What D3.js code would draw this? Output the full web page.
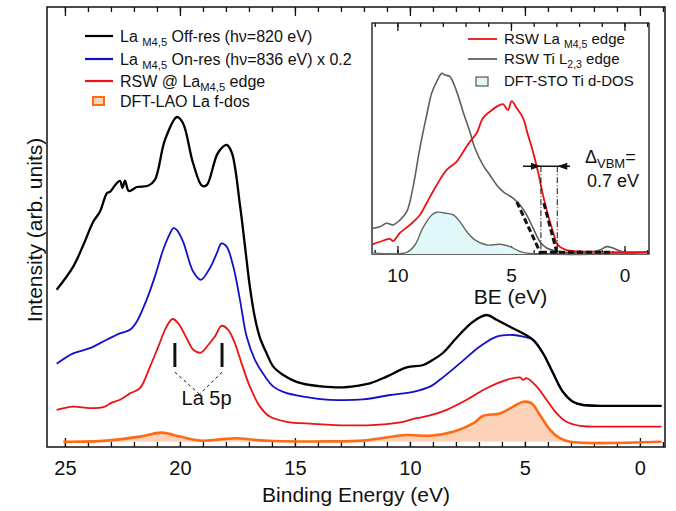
<!DOCTYPE html>
<html lang="en">
<head>
<meta charset="UTF-8">
<title>La 5p resonant photoemission</title>
<script src="https://d3js.org/d3.v7.min.js"></script>
<style>
  body { margin: 0; background: #fff; }
  svg text { font-family: "Liberation Sans", Arial, Helvetica, sans-serif; fill: #111; white-space: pre; }
  .tick-main text { font-size: 20px; }
  .tick-inset text { font-size: 19px; }
  .axis-label { font-size: 21px; }
  .legend { font-size: 16px; }
  .legend-inset { font-size: 15px; }
</style>
</head>
<body>
<div id="chart"></div>
<script>
// ---- main panel data: [binding energy (eV), intensity (arb. units)] ----
const offRes = [[25.36,39.3],[24.64,45.1],[24.2,50.5],[23.77,56.3],[23.48,58.8],[23.17,63.5],[23.04,63.8],
  [22.74,66.0],[22.6,66.5],[22.5,64.8],[22.39,66.6],[22.22,64.0],[21.87,65.0],[21.39,65.3],[21.09,66.8],
  [20.65,76.8],[20.13,82.5],[19.87,81.0],[19.43,71.0],[19.04,65.3],[18.83,65.5],[18.35,73.5],[17.96,75.5],
  [17.74,73.5],[17.39,60.5],[17.17,50.1],[16.96,40.1],[16.74,32.3],[16.52,27.3],[16.23,23.4],[15.94,20.1],
  [15.51,18.0],[14.93,16.3],[14.35,15.5],[13.77,15.1],[13.04,14.9],[12.32,15.3],[11.74,15.9],[11.01,17.6],
  [10.14,19.9],[9.42,20.5],[9.0,21.8],[8.57,23.5],[7.97,27.3],[7.26,31.3],[6.67,33.0],[6.23,31.8],[5.8,30.5],
  [5.22,28.8],[4.65,26.8],[4.22,23.5],[3.78,18.5],[3.35,13.8],[2.91,11.3],[2.48,10.5],[1.17,10.3],[-0.94,10.3]];

const onRes = [[25.36,20.8],[24.64,23.4],[23.91,24.7],[23.19,26.8],[22.61,28.4],[22.17,29.3],[21.88,31.3],
  [21.45,36.8],[21.09,42.6],[20.73,49.3],[20.43,53.4],[20.29,54.7],[20.14,54.3],[19.86,51.3],[19.42,43.8],
  [19.09,41.8],[18.7,44.7],[18.4,48.4],[18.19,50.9],[17.97,50.1],[17.68,45.1],[17.39,36.8],[17.1,27.6],
  [16.74,21.8],[16.3,17.6],[15.94,15.1],[15.51,13.8],[14.64,12.6],[13.48,11.8],[12.03,11.9],[10.87,13.0],
  [9.86,13.8],[9.13,15.1],[8.7,16.8],[7.83,20.9],[6.96,25.1],[6.23,27.6],[5.51,28.0],[5.07,27.6],[4.64,26.8],
  [4.22,23.5],[3.78,18.5],[3.35,13.8],[2.91,11.3],[2.48,10.5],[1.17,10.3],[-0.94,10.3]];

const rswLa = [[25.36,9.3],[24.64,10.1],[23.91,9.7],[23.26,10.1],[22.97,11.1],[22.61,11.8],[22.17,13.4],
  [21.74,14.7],[21.3,20.1],[20.94,25.1],[20.58,30.1],[20.32,32.0],[20.07,30.9],[19.71,27.2],[19.42,24.3],
  [19.09,23.6],[18.77,25.5],[18.48,27.6],[18.19,30.3],[17.9,29.3],[17.61,25.9],[17.32,20.9],[16.96,15.1],
  [16.52,10.1],[16.09,7.6],[15.36,6.3],[14.2,5.8],[12.75,5.4],[11.3,5.6],[10.29,6.3],[9.71,7.2],[9.13,7.9],
  [8.4,9.3],[7.53,11.8],[6.67,14.7],[5.8,16.8],[5.22,17.4],[5.07,16.8],[4.93,17.2],[4.49,15.1],[4.06,11.8],
  [3.62,8.4],[3.19,6.3],[2.61,5.3],[1.17,5.1],[-0.94,5.1]];

const dftLao = [[25.07,1.3],[23.19,1.6],[21.74,2.6],[20.8,3.6],[20.0,2.6],[19.13,1.6],[18.26,1.9],[17.53,2.2],
  [16.81,1.8],[15.94,1.5],[13.48,1.4],[12.03,1.6],[10.14,3.0],[9.13,2.8],[8.12,3.8],[7.25,5.9],[6.81,7.8],
  [6.09,8.4],[5.51,10.1],[5.07,11.3],[4.71,10.9],[4.35,8.0],[3.91,4.3],[3.48,2.2],[3.04,1.3],[-0.94,1.3]];

const mainMajor = [25, 20, 15, 10, 5, 0];
const mainMinor = [-1,0,1,2,3,4,5,6,7,8,9,10,11,12,13,14,15,16,17,18,19,20,21,22,23,24,25];

// ---- inset data: [BE (eV), intensity] ----
const insetLa = [[11.1,4.2],[10.77,5.3],[10.33,6.5],[10.19,5.6],[9.89,9.1],[9.45,12.6],[9.01,16.9],[8.71,22.1],
  [8.27,29.9],[7.83,36.4],[7.39,40.0],[7.1,44.3],[6.81,48.6],[6.51,52.4],[6.23,58.9],[5.93,61.6],[5.63,63.8],
  [5.35,64.9],[5.13,62.3],[4.97,66.2],[4.75,63.2],[4.47,58.9],[4.25,51.5],[4.03,44.3],[3.81,35.6],[3.59,25.5],
  [3.37,16.9],[3.15,9.7],[2.93,3.9],[2.55,1.7],[1.39,1.0],[-1.0,0.7]];

const insetTi = [[11.1,11.1],[10.77,11.8],[10.48,13.3],[10.2,12.6],[9.89,14.7],[9.59,18.3],[9.32,28.6],
  [9.01,45.9],[8.71,60.2],[8.49,69.7],[8.27,74.6],[8.05,78.2],[7.91,77.5],[7.69,76.8],[7.39,70.3],[7.11,61.6],
  [6.81,52.9],[6.59,45.9],[6.23,38.5],[5.93,34.2],[5.63,29.9],[5.35,27.0],[4.91,24.2],[4.6,21.2],[4.31,16.9],
  [4.03,11.3],[3.72,5.3],[3.43,2.6],[2.84,1.0],[1.39,1.0],[1.08,1.7],[0.78,3.2],[0.51,2.6],[0.07,1.0],[-1.0,0.9]];

const stoDos = [[11.1,0.5],[9.59,0.7],[9.23,3.9],[8.88,11.3],[8.49,16.9],[8.27,18.1],[7.83,17.6],[7.54,16.9],
  [7.25,14.0],[6.95,9.7],[6.59,6.1],[6.07,3.9],[5.48,4.2],[5.04,3.2],[4.47,0.7],[-1.0,0.5]];

const tiEdgeFit = [[4.74,22.5],[3.68,0]];
const laEdgeFit = [[3.55,22.0],[2.96,0]];
const vbmBase = [[3.68,0.8],[0.5,0.8]];
const vbmMarks = [3.68, 2.96];
const insetMajor = [10, 5, 0];
const insetMinor = [-1,0,1,2,3,4,5,6,7,8,9,10,11];

// ---- layout ----
const W = 676, H = 511;
const main = { left: 47, right: 665, top: 7, bottom: 447 };
const inset = { left: 372, right: 649, top: 23, bottom: 254 };

const svg = d3.select("#chart").append("svg")
  .attr("width", W).attr("height", H);

const x = d3.scaleLinear().domain([25.78, -1.09]).range([main.left, main.right]);
const y = d3.scaleLinear().domain([0, 110]).range([main.bottom, main.top]);

const ix = d3.scaleLinear().domain([11.12, -1.08]).range([inset.left, inset.right]);
const iy = d3.scaleLinear().domain([0, 100]).range([inset.bottom, inset.top]);

// frame
svg.append("rect")
  .attr("x", main.left).attr("y", main.top)
  .attr("width", main.right - main.left).attr("height", main.bottom - main.top)
  .attr("fill", "none").attr("stroke", "#111").attr("stroke-width", 1.5);

// ticks, pointing inward on top and bottom
function ticks(g, axis) {
  g.call(axis).call(s => s.select(".domain").remove())
    .attr("font-size", null).attr("font-family", null)
    .selectAll("line").attr("stroke", "#111").attr("stroke-width", 1.3);
}
svg.append("g").attr("transform", `translate(0,${main.bottom})`)
  .call(g => ticks(g, d3.axisBottom(x).tickValues(mainMinor).tickSize(-5).tickFormat("")));
svg.append("g").attr("class", "tick-main").attr("transform", `translate(0,${main.bottom})`)
  .call(g => ticks(g, d3.axisBottom(x).tickValues(mainMajor).tickSize(-9).tickPadding(14)));
svg.append("g").attr("transform", `translate(0,${main.top})`)
  .call(g => ticks(g, d3.axisTop(x).tickValues(mainMinor).tickSize(-5).tickFormat("")));
svg.append("g").attr("transform", `translate(0,${main.top})`)
  .call(g => ticks(g, d3.axisTop(x).tickValues(mainMajor).tickSize(-9).tickFormat("")));

svg.append("text").attr("class", "axis-label")
  .attr("x", (main.left + main.right) / 2).attr("y", 502)
  .attr("text-anchor", "middle").text("Binding Energy (eV)");

svg.append("text").attr("class", "axis-label")
  .attr("transform", "translate(42,230) rotate(-90)")
  .attr("text-anchor", "middle").text("Intensity (arb. units)");

// main curves
const line = d3.line().x(d => x(d[0])).y(d => y(d[1]));
const area = d3.area().x(d => x(d[0])).y0(y(1.3)).y1(d => y(d[1])).curve(d3.curveCatmullRom);

svg.append("path").datum(dftLao).attr("d", area).attr("fill", "#fcd3b9");
svg.append("path").datum(dftLao).attr("d", line.curve(d3.curveCatmullRom))
  .attr("fill", "none").attr("stroke", "#ff6a13").attr("stroke-width", 2.6);

const series = [
  { data: rswLa, color: "#ee1111", w: 1.8 },
  { data: onRes, color: "#1111cc", w: 1.8 },
  { data: offRes, color: "#000000", w: 2.3 }
];
series.forEach(s => {
  svg.append("path").datum(s.data)
    .attr("d", d3.line().x(d => x(d[0])).y(d => y(d[1])).curve(d3.curveCatmullRom))
    .attr("fill", "none").attr("stroke", s.color)
    .attr("stroke-width", s.w).attr("stroke-linejoin", "round");
});

// La 5p markers
const la5p = [20.22, 18.17];
la5p.forEach(e => {
  svg.append("line")
    .attr("x1", x(e)).attr("x2", x(e)).attr("y1", y(26)).attr("y2", y(20))
    .attr("stroke", "#111").attr("stroke-width", 3);
  svg.append("line")
    .attr("x1", x(e)).attr("y1", y(18.7)).attr("x2", x(19.15)).attr("y2", y(13.2))
    .attr("stroke", "#111").attr("stroke-width", 1).attr("stroke-dasharray", "3,3");
});
svg.append("text").attr("x", x(19.93)).attr("y", 405)
  .style("font-size", "20px").text("La 5p");

// text with subscripts; parts are plain strings or {sub: "..."}
function rich(g, px, py, parts, cls) {
  const t = g.append("text").attr("x", px).attr("y", py).attr("class", cls);
  let shifted = false;
  parts.forEach(p => {
    const sp = t.append("tspan");
    if (typeof p !== "string") {
      sp.attr("dy", 4).style("font-size", "0.7em").text(p.sub);
      shifted = true;
    } else {
      if (shifted) { sp.attr("dy", -4); shifted = false; }
      sp.text(p);
    }
  });
  return t;
}

// main legend
const legend = svg.append("g");
const legRows = [
  { y: 36, color: "#000", parts: ["La ", { sub: "M4,5" }, " Off-res (h\u03bd=820 eV)"] },
  { y: 59, color: "#1111cc", parts: ["La ", { sub: "M4,5" }, " On-res (h\u03bd=836 eV) x 0.2"] },
  { y: 81, color: "#ee1111", parts: ["RSW @ La", { sub: "M4,5" }, " edge"] }
];
legRows.forEach(r => {
  legend.append("line").attr("x1", 85).attr("x2", 113).attr("y1", r.y).attr("y2", r.y)
    .attr("stroke", r.color).attr("stroke-width", 2.2);
  rich(legend, 120, r.y + 6, r.parts, "legend");
});
legend.append("rect").attr("x", 93).attr("y", 97).attr("width", 11).attr("height", 8)
  .attr("fill", "#fcd3b9").attr("stroke", "#ff6a13").attr("stroke-width", 2);
rich(legend, 120, 107, ["DFT-LAO La f-dos"], "legend");

// ---- inset ----
const ins = svg.append("g");
ins.append("rect")
  .attr("x", inset.left).attr("y", inset.top)
  .attr("width", inset.right - inset.left).attr("height", inset.bottom - inset.top)
  .attr("fill", "#fff").attr("stroke", "#111").attr("stroke-width", 1.3);

ins.append("g").attr("transform", `translate(0,${inset.bottom})`)
  .call(g => ticks(g, d3.axisBottom(ix).tickValues(insetMinor).tickSize(-4).tickFormat("")));
ins.append("g").attr("class", "tick-inset").attr("transform", `translate(0,${inset.bottom})`)
  .call(g => ticks(g, d3.axisBottom(ix).tickValues(insetMajor).tickSize(-8).tickPadding(15)));
ins.append("g").attr("transform", `translate(0,${inset.top})`)
  .call(g => ticks(g, d3.axisTop(ix).tickValues(insetMinor).tickSize(-4).tickFormat("")));
ins.append("g").attr("transform", `translate(0,${inset.top})`)
  .call(g => ticks(g, d3.axisTop(ix).tickValues(insetMajor).tickSize(-8).tickFormat("")));

ins.append("text").attr("class", "axis-label")
  .attr("x", (inset.left + inset.right) / 2).attr("y", 304)
  .attr("text-anchor", "middle").text("BE (eV)");

const iline = d3.line().x(d => ix(d[0])).y(d => iy(d[1]));
const iarea = d3.area().x(d => ix(d[0])).y0(iy(0)).y1(d => iy(d[1])).curve(d3.curveCatmullRom);

ins.append("path").datum(stoDos).attr("d", iarea).attr("fill", "#e1f8fa");
ins.append("path").datum(stoDos).attr("d", iline.curve(d3.curveCatmullRom))
  .attr("fill", "none").attr("stroke", "#666").attr("stroke-width", 1.4);
ins.append("path").datum(insetTi).attr("d", iline.curve(d3.curveCatmullRom))
  .attr("fill", "none").attr("stroke", "#5f5f5f").attr("stroke-width", 1.6);
ins.append("path").datum(insetLa).attr("d", iline.curve(d3.curveCatmullRom))
  .attr("fill", "none").attr("stroke", "#ee1111").attr("stroke-width", 1.8);

// VBM extrapolation
[tiEdgeFit, laEdgeFit, vbmBase].forEach(d => {
  ins.append("path").datum(d).attr("d", iline.curve(d3.curveLinear))
    .attr("fill", "none").attr("stroke", "#111").attr("stroke-width", 3)
    .attr("stroke-dasharray", "6,3");
});
vbmMarks.forEach(e => {
  ins.append("line").attr("x1", ix(e)).attr("x2", ix(e)).attr("y1", iy(38)).attr("y2", iy(0))
    .attr("stroke", "#111").attr("stroke-width", 1).attr("stroke-dasharray", "6,2,1,2");
});
ins.append("line").attr("x1", ix(4.47)).attr("x2", ix(2.4)).attr("y1", iy(38)).attr("y2", iy(38))
  .attr("stroke", "#111").attr("stroke-width", 1.5);
const ay = iy(38);
const tipL = ix(vbmMarks[0]), tipR = ix(vbmMarks[1]);
ins.append("path").attr("d", `M${tipL},${ay} L${tipL - 10},${ay - 3.5} L${tipL - 10},${ay + 3.5} Z`).attr("fill", "#111");
ins.append("path").attr("d", `M${tipR},${ay} L${tipR + 10},${ay - 3.5} L${tipR + 10},${ay + 3.5} Z`).attr("fill", "#111");

const dv = ins.append("text").attr("x", 585).attr("y", 163).style("font-size", "18px");
dv.append("tspan").text("\u0394");
dv.append("tspan").attr("dy", 5).style("font-size", "13px").text("VBM");
dv.append("tspan").attr("dy", -5).text("=");
ins.append("text").attr("x", 587).attr("y", 187).style("font-size", "18px").text("0.7 eV");

// inset legend
const ilRows = [
  { y: 39, color: "#ee1111", parts: ["RSW La ", { sub: "M4,5" }, " edge"] },
  { y: 59, color: "#5f5f5f", parts: ["RSW Ti L", { sub: "2,3" }, " edge"] }
];
ilRows.forEach(r => {
  ins.append("line").attr("x1", 468).attr("x2", 497).attr("y1", r.y).attr("y2", r.y)
    .attr("stroke", r.color).attr("stroke-width", 1.8);
  rich(ins, 504, r.y + 5, r.parts, "legend-inset");
});
ins.append("rect").attr("x", 476).attr("y", 77).attr("width", 12).attr("height", 9)
  .attr("fill", "#e1f8fa").attr("stroke", "#555").attr("stroke-width", 1.2);
rich(ins, 504, 86, ["DFT-STO Ti d-DOS"], "legend-inset");
</script>
</body>
</html>
